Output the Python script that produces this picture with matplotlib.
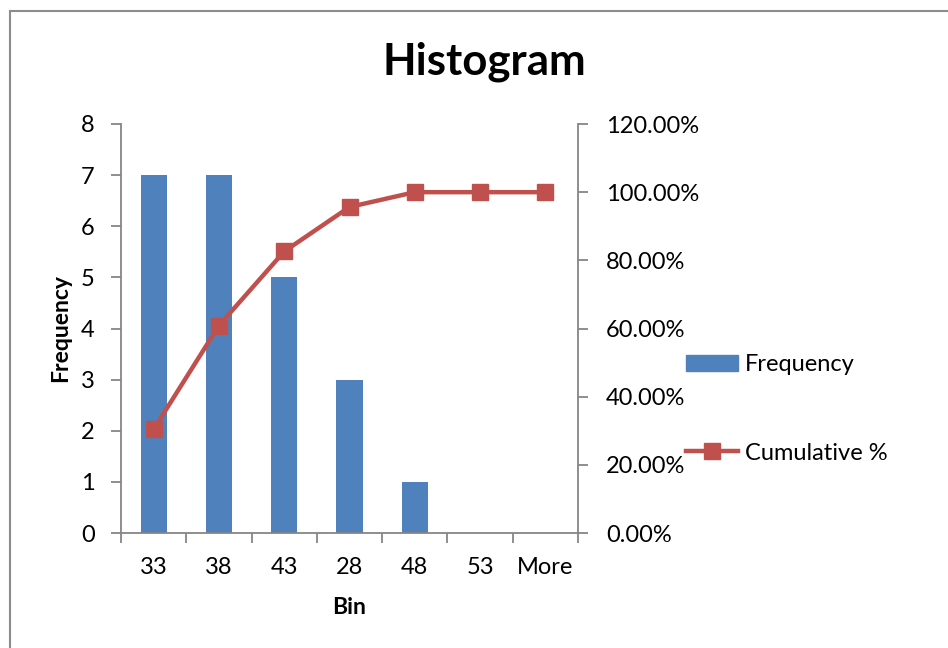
import matplotlib.pyplot as plt
from matplotlib.patches import Rectangle
from matplotlib.lines import Line2D
from matplotlib.ticker import FuncFormatter
import numpy as np

plt.rcParams['font.family'] = ['Lato', 'DejaVu Sans']

bins = ['33', '38', '43', '28', '48', '53', 'More']
frequency = [7, 7, 5, 3, 1, 0, 0]
cumulative = [0.3043, 0.6087, 0.8261, 0.9565, 1.0, 1.0, 1.0]

bar_color = '#4F81BD'
line_color = '#C0504D'
axis_gray = '#868686'
fs = 17

fig = plt.figure(figsize=(9.48, 6.48), dpi=100)
ax = fig.add_axes([121 / 948, 1 - 533 / 648, 457 / 948, 409 / 648])

x = np.arange(len(bins))
ax.bar(x, frequency, width=0.4, color=bar_color, zorder=2)
ax.set_xlim(-0.5, len(bins) - 0.5)
ax.set_ylim(0, 8)
ax.set_yticks(range(0, 9))
ax.set_xticks(x)
ax.set_xticklabels(bins)
ax.set_xticks(np.arange(-0.5, len(bins)), minor=True)
ax.tick_params(axis='x', which='major', length=0, pad=17, labelsize=fs)
ax.tick_params(axis='x', which='minor', length=7, width=1.3, color=axis_gray, direction='out')
ax.tick_params(axis='y', length=7, width=1.3, color=axis_gray, labelsize=fs, pad=12)
for s in ['top', 'right']:
    ax.spines[s].set_visible(False)
for s in ['left', 'bottom']:
    ax.spines[s].set_color(axis_gray)
    ax.spines[s].set_linewidth(1.3)
ax.set_ylabel('Frequency', fontsize=16.5, fontweight='bold', labelpad=7)
ax.set_xlabel('Bin', fontsize=16.5, fontweight='bold', labelpad=14)

ax2 = ax.twinx()
ax2.plot(x, cumulative, color=line_color, lw=3.2, marker='s', markersize=12, zorder=3)
ax2.set_ylim(0, 1.2)
ax2.set_yticks(np.arange(0, 1.21, 0.2))
ax2.yaxis.set_major_formatter(FuncFormatter(lambda v, p: f'{v * 100:.2f}%'))
ax2.tick_params(axis='y', length=7, width=1.3, color=axis_gray, labelsize=fs, pad=13)
for s in ['top', 'left', 'bottom']:
    ax2.spines[s].set_visible(False)
ax2.spines['right'].set_color(axis_gray)
ax2.spines['right'].set_linewidth(1.3)

fig.text(484 / 948, 1 - 62 / 648, 'Histogram', ha='center', va='center',
         fontsize=31.5, fontweight='bold')

handles = [Rectangle((0, 0), 1, 1, color=bar_color),
           Line2D([0], [0], color=line_color, lw=3.2, marker='s', markersize=12)]
fig.legend(handles, ['Frequency', 'Cumulative %'], loc='center left',
           bbox_to_anchor=(665 / 948, 1 - 409 / 648), frameon=False, fontsize=fs,
           labelspacing=2.85, handlelength=2.2, handletextpad=0.3)

# chart border
fig.add_artist(Rectangle((10 / 948, -0.05), 1.0, 1 - 11 / 648 + 0.05, transform=fig.transFigure,
                         fill=False, edgecolor='#8C8C8C', lw=1.5))

fig.savefig('out.png', dpi=100)
